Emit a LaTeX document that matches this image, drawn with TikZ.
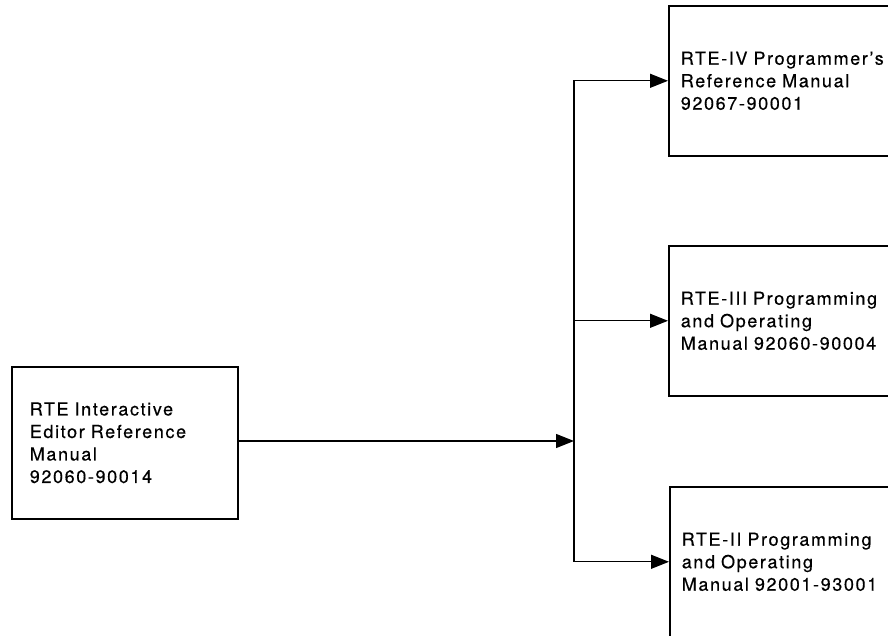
\documentclass[tikz,border=0pt]{standalone}
\usepackage{fontspec}
\setmainfont[LetterSpace=9,FakeBold=0.4]{TeX Gyre Heros}
\usetikzlibrary{arrows.meta}
\tikzset{
  every node/.style={font=\fontsize{18}{22.5}\selectfont},
  box/.style={draw, line width=1.6pt, align=left, inner ysep=0pt, minimum height=150pt, anchor=north west},
  rbox/.style={box, text width=216pt, inner xsep=12pt},
  lbox/.style={box, text width=190pt, inner xsep=18pt, minimum height=152pt},
  conn/.style={line width=1.3pt},
  arr/.style={conn, -{Triangle[length=18pt,width=14pt]}}
}
\begin{document}
\begin{tikzpicture}[x=1pt,y=-1pt]
\useasboundingbox (0,0) rectangle (888,636);
\node[lbox] (src) at (11,366) {RTE Interactive\\Editor Reference\\Manual\\92060-90014};
\node[rbox] (a) at (668,5) {RTE-IV Programmer's\\Reference Manual\\92067-90001};
\node[rbox] (b) at (668,245) {RTE-III Programming\\and Operating\\Manual 92060-90004};
\node[rbox] (c) at (669,486) {RTE-II Programming\\and Operating\\Manual 92001-93001};
\coordinate (j) at (574,441);
\draw[arr] (src.east |- j) -- (j);
\draw[arr] (j) |- (a.west);
\draw[arr] (j) |- (c.west);
\draw[arr] (j |- b.west) -- (b.west);
\end{tikzpicture}
\end{document}
